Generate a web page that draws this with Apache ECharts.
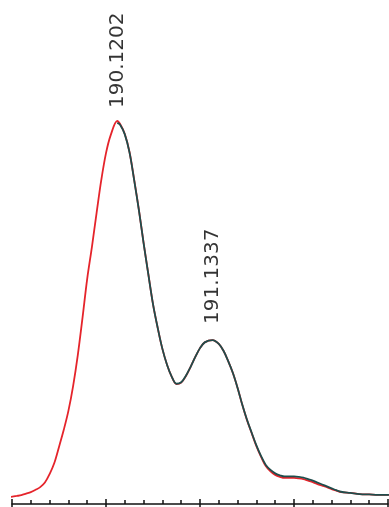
<!DOCTYPE html>
<html>
<head>
<meta charset="utf-8">
<style>
  html, body { margin: 0; padding: 0; background: #fff; }
  #chart { width: 389px; height: 507px; }
</style>
<script src="https://cdn.jsdelivr.net/npm/echarts@6/dist/echarts.min.js"></script>
</head>
<body>
<div id="chart"></div>
<script>
// Profile spectrum: m/z and relative intensity (%)
const mzProfile = [
  188.97, 189.05, 189.10, 189.15, 189.20, 189.25, 189.30, 189.35, 189.40,
  189.45, 189.50, 189.55, 189.60, 189.65, 189.70, 189.75, 189.80, 189.85,
  189.90, 189.95, 190.00, 190.05, 190.1202, 190.15, 190.20, 190.25, 190.30,
  190.35, 190.40, 190.45, 190.50, 190.55, 190.60, 190.65, 190.70, 190.75,
  190.80, 190.85, 190.90, 190.95, 191.00, 191.05, 191.1337, 191.20, 191.25,
  191.30, 191.35, 191.40, 191.45, 191.50, 191.55, 191.60, 191.65, 191.70,
  191.75, 191.80, 191.85, 191.90, 191.95, 192.00, 192.05, 192.10, 192.15,
  192.20, 192.25, 192.30, 192.35, 192.40, 192.45, 192.50, 192.60, 192.70,
  192.80, 192.90, 193.01
];
const intensityProfile = [
  1.8, 2.1, 2.3, 2.7, 3.1, 3.7, 4.4, 5.6, 7.8,
  10.7, 14.9, 19.3, 24.3, 30.8, 38.9, 48.6, 58.8, 67.1,
  76.0, 84.6, 91.6, 96.3, 100, 99.2, 96.6, 91.9, 84.6,
  76.8, 68.2, 60.1, 52.2, 46.0, 40.5, 36.3, 33.2, 31.3,
  31.7, 33.4, 35.8, 38.4, 40.7, 42.2, 42.8, 41.8, 40.0,
  37.3, 34.2, 30.3, 25.9, 21.9, 18.5, 15.1, 12.3, 9.9,
  8.5, 7.6, 7.1, 6.8, 6.8, 6.8, 6.7, 6.5, 6.1,
  5.7, 5.2, 4.8, 4.4, 3.9, 3.5, 3.1, 2.9, 2.6,
  2.5, 2.4, 2.4
];

// Fitted trace, from the base peak onward
const mzFit = [
  190.1202, 190.15, 190.20, 190.25, 190.30,
  190.35, 190.40, 190.45, 190.50, 190.55, 190.60, 190.65, 190.70, 190.75,
  190.80, 190.85, 190.90, 190.95, 191.00, 191.05, 191.1337, 191.20, 191.25,
  191.30, 191.35, 191.40, 191.45, 191.50, 191.55, 191.60, 191.65, 191.70,
  191.75, 191.80, 191.85, 191.90, 191.95, 192.00, 192.05, 192.10, 192.15,
  192.20, 192.25, 192.30, 192.35, 192.40, 192.45, 192.50, 192.60, 192.70,
  192.80, 192.90, 193.01
];
const intensityFit = [
  99.5, 99.0, 96.5, 91.8, 84.5,
  76.7, 68.1, 60.0, 52.2, 46.0, 40.5, 36.3, 33.2, 31.4,
  31.8, 33.5, 35.8, 38.4, 40.7, 42.2, 42.8, 41.8, 40.0,
  37.3, 34.2, 30.3, 25.9, 22.0, 18.6, 15.3, 12.5, 10.2,
  8.9, 8.0, 7.5, 7.2, 7.2, 7.2, 7.1, 6.9, 6.5,
  6.1, 5.6, 5.1, 4.6, 4.1, 3.6, 3.2, 2.9, 2.6,
  2.5, 2.4, 2.4
];

// Annotated centroids
const peakMz = [190.1202, 191.1337];
const peakIntensity = [100, 42.8];
const peakText = ['190.1202', '191.1337'];
const peakGap = [13, 16];

const axisMin = 189;
const axisMax = 193;

const profileData = mzProfile.map((mz, i) => [mz, intensityProfile[i]]);
const fitData = mzFit.map((mz, i) => [mz, intensityFit[i]]);
const peakData = peakMz.map((mz, i) => ({
  value: [mz, peakIntensity[i]],
  label: { formatter: peakText[i], distance: peakGap[i] }
}));

const tickStyle = { color: '#111', width: 1.5 };

const chart = echarts.init(document.getElementById('chart'), null, { renderer: 'canvas' });
chart.setOption({
  animation: false,
  backgroundColor: '#ffffff',
  grid: { left: 12, right: 1, top: 121, bottom: 3, containLabel: false },
  xAxis: [
    {
      type: 'value', min: axisMin, max: axisMax, interval: 1,
      axisLine: { show: true, lineStyle: tickStyle },
      axisTick: { show: true, inside: true, length: 5, lineStyle: tickStyle },
      minorTick: { show: true, splitNumber: 5, length: 4, lineStyle: tickStyle },
      axisLabel: { show: false },
      splitLine: { show: false }
    },
    {
      type: 'value', min: axisMin, max: axisMax, interval: 1, position: 'bottom',
      axisLine: { show: false },
      axisTick: { show: true, inside: false, length: 4, lineStyle: tickStyle },
      axisLabel: { show: false },
      splitLine: { show: false }
    }
  ],
  yAxis: { type: 'value', min: 0, max: 100, show: false },
  series: [
    {
      type: 'line',
      data: profileData,
      smooth: 0.35,
      clip: false,
      showSymbol: false,
      lineStyle: { color: '#e5242b', width: 1.8 },
      z: 2
    },
    {
      type: 'line',
      data: fitData,
      smooth: 0.35,
      clip: false,
      showSymbol: false,
      lineStyle: { color: '#1f4d4c', width: 1.8 },
      z: 3
    },
    {
      type: 'scatter',
      data: peakData,
      symbol: 'circle',
      symbolSize: 0.1,
      itemStyle: { color: 'rgba(0,0,0,0)' },
      silent: true,
      label: {
        show: true,
        position: 'top',
        rotate: 90,
        align: 'left',
        verticalAlign: 'middle',
        fontFamily: 'DejaVu Sans',
        fontSize: 20,
        color: '#000'
      },
      z: 4
    }
  ]
});
</script>
</body>
</html>
